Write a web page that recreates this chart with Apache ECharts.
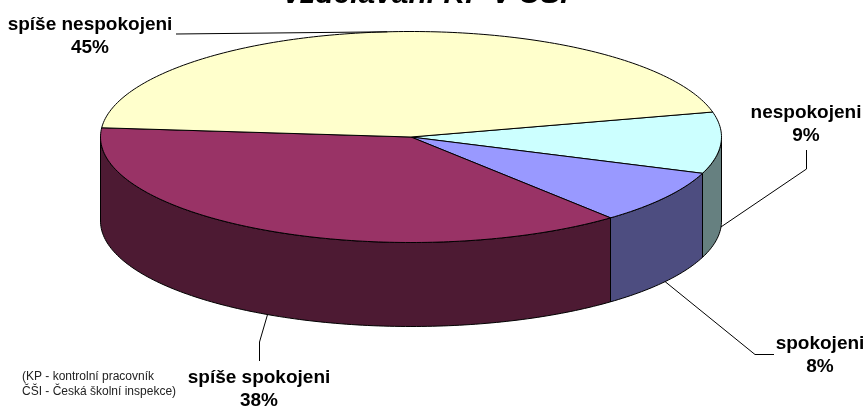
<!DOCTYPE html>
<html>
<head>
<meta charset="utf-8">
<style>
  html, body { margin: 0; padding: 0; background: #fff; }
  #chart { width: 865px; height: 407px; }
</style>
</head>
<body>
<div id="chart"></div>
<script src="https://cdn.jsdelivr.net/npm/echarts@6/dist/echarts.min.js"></script>
<script>
// hodnoty z grafu, po smeru hodinovych rucicek od zluteho/tyrkysoveho rezu
const categories = ['nespokojeni', 'spokojeni', 'spíše spokojeni', 'spíše nespokojeni'];
const shares = [9.4, 8.3, 37.5, 44.8];
const topColors = ['#CCFFFF', '#9999FF', '#993366', '#FFFFCC'];
const sideColors = ['#668080', '#4D4D80', '#4D1A33', '#80806A'];

// tvar "3D" kolace
const cx = 411, cy = 137, rx = 310.5, ry = 105.5, depth = 84;
const startAngle = -13.7;

// kde lezi popisky: stred textu a lomeny bod vodici cary
const labelPos = [
  { x: 806, y: 124.5, line: [[806.5, 150], [806.5, 169]] },
  { x: 820, y: 355, line: [[774, 354.5], [755, 354.5]] },
  { x: 259, y: 389, line: [[259.5, 361], [259.5, 342]] },
  { x: 90, y: 36.5, line: [[176, 34]] }
];

function rim(deg, dy) {
  const a = deg * Math.PI / 180;
  return [cx + rx * Math.cos(a), cy + ry * Math.sin(a) + (dy || 0)];
}

function arc(from, to, dy) {
  const pts = [];
  const steps = Math.max(2, Math.ceil(to - from));
  for (let i = 0; i <= steps; i++) {
    pts.push(rim(from + (to - from) * i / steps, dy));
  }
  return pts;
}

function sliceRange(idx) {
  let from = startAngle;
  for (let i = 0; i < idx; i++) from += shares[i] * 3.6;
  return [from, from + shares[idx] * 3.6];
}

function renderSlice(params, api) {
  const i = api.value(0);
  const [from, to] = sliceRange(i);
  const children = [];
  const edge = { stroke: '#000', lineWidth: 1, lineJoin: 'round' };

  // bocni stena jen v predni casti elipsy
  const a = Math.max(from, 0), b = Math.min(to, 180);
  if (b > a) {
    children.push({
      type: 'polygon',
      shape: { points: arc(a, b, 0).concat(arc(a, b, depth).reverse()) },
      style: Object.assign({ fill: sideColors[i] }, edge)
    });
  }
  // horni plocha
  children.push({
    type: 'polygon',
    shape: { points: [[cx, cy]].concat(arc(from, to, 0)) },
    style: Object.assign({ fill: topColors[i] }, edge)
  });

  // vodici cara k polovine rezu
  const mid = (from + to) / 2;
  const anchor = rim(mid, Math.sin(mid * Math.PI / 180) > -0.2 ? depth : 0);
  children.push({
    type: 'polyline',
    shape: { points: labelPos[i].line.concat([anchor]) },
    style: { stroke: '#000', lineWidth: 1, fill: null }
  });
  children.push({
    type: 'text',
    style: {
      text: categories[i] + '\n' + Math.round(shares[i]) + '%',
      x: labelPos[i].x,
      y: labelPos[i].y,
      align: 'center',
      verticalAlign: 'middle',
      font: 'bold 19px "Liberation Sans", Arial, sans-serif',
      lineHeight: 23,
      fill: '#000'
    }
  });
  return { type: 'group', children: children };
}

const chart = echarts.init(document.getElementById('chart'), null, { renderer: 'canvas' });
chart.setOption({
  backgroundColor: '#fff',
  animation: false,
  graphic: [{
    type: 'text',
    x: 426,
    y: 10,
    style: {
      text: 'vzdělávání KP v ČŠI',
      align: 'center',
      verticalAlign: 'bottom',
      font: 'italic bold 30px "Liberation Sans", Arial, sans-serif',
      fill: '#000'
    }
  }, {
    type: 'text',
    left: 22,
    top: 369.5,
    style: {
      text: '(KP - kontrolní pracovník\nČŠI - Česká školní inspekce)',
      font: '12px "Liberation Sans", Arial, sans-serif',
      lineHeight: 15,
      fill: '#222'
    }
  }],
  series: [{
    type: 'custom',
    coordinateSystem: 'none',
    silent: true,
    renderItem: renderSlice,
    data: categories.map((c, i) => [i, shares[i]])
  }]
});
</script>
</body>
</html>
